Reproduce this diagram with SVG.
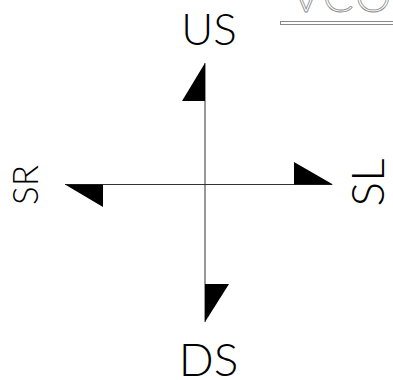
<svg xmlns="http://www.w3.org/2000/svg" width="393" height="380" viewBox="0 0 393 380">
<style>
.lbl{font-family:Lato,"Liberation Sans",sans-serif;font-weight:300;fill:#000;text-anchor:middle}
.axis{stroke:#333;stroke-width:1;fill:none}
.head{fill:#000;stroke:none}
.ghost{font-family:Lato,"Liberation Sans",sans-serif;font-weight:300;fill:#fff;stroke:#888;stroke-width:0.8}
</style>
<rect width="393" height="380" fill="#fff"/>
<g id="title">
<text class="ghost" x="291" y="12" font-size="46" letter-spacing="2">VCO</text>
<rect x="280.5" y="21.5" width="120" height="3" fill="#fff" stroke="#888" stroke-width="1"/>
</g>
<g id="connectors">
<line class="axis" x1="205" y1="63" x2="205" y2="322"/>
<line class="axis" x1="65" y1="184.5" x2="332" y2="184.5"/>
</g>
<g id="US">
<polygon class="head" points="205,63 205,101 182,101"/>
<text class="lbl" x="209" y="45" font-size="44">US</text>
</g>
<g id="DS">
<polygon class="head" points="205,284 229,284 205,322"/>
<text class="lbl" x="208.5" y="376" font-size="46">DS</text>
</g>
<g id="SR">
<polygon class="head" points="65,184.5 103,184.5 103,207"/>
<text class="lbl" transform="translate(38,185) rotate(-90)" font-size="35">SR</text>
</g>
<g id="SL">
<polygon class="head" points="294,162 294,184.5 333,184.5"/>
<text class="lbl" transform="translate(384,182.5) rotate(-90)" font-size="46">SL</text>
</g>
</svg>
